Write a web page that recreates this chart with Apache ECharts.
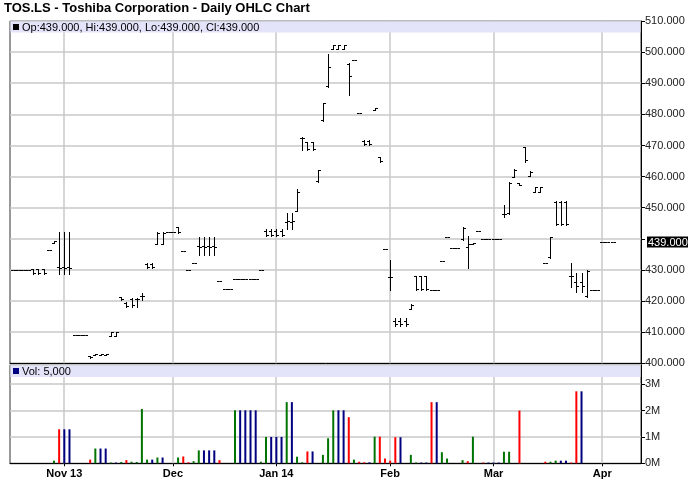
<!DOCTYPE html>
<html><head><meta charset="utf-8">
<script src="https://cdn.jsdelivr.net/npm/echarts@6/dist/echarts.min.js"></script>
<style>html,body{margin:0;padding:0;background:#fff}#c{width:688px;height:503px}</style>
</head><body><div id="c"></div>
<script>
// ---- data (trading days) ----
const dates = [
 "2013-10-18","2013-10-21","2013-10-22","2013-10-23","2013-10-24","2013-10-25","2013-10-28","2013-10-29","2013-10-30","2013-10-31",
 "2013-11-01","2013-11-04","2013-11-05","2013-11-06","2013-11-07","2013-11-08","2013-11-11","2013-11-12","2013-11-13","2013-11-14",
 "2013-11-15","2013-11-18","2013-11-19","2013-11-20","2013-11-21","2013-11-22","2013-11-25","2013-11-26","2013-11-27","2013-11-28",
 "2013-11-29","2013-12-02","2013-12-03","2013-12-04","2013-12-05","2013-12-06","2013-12-09","2013-12-10","2013-12-11","2013-12-12",
 "2013-12-13","2013-12-16","2013-12-17","2013-12-18","2013-12-19","2013-12-20","2013-12-23","2013-12-24","2013-12-27","2013-12-30",
 "2013-12-31","2014-01-02","2014-01-03","2014-01-06","2014-01-07","2014-01-08","2014-01-09","2014-01-10","2014-01-13","2014-01-14",
 "2014-01-15","2014-01-16","2014-01-17","2014-01-20","2014-01-21","2014-01-22","2014-01-23","2014-01-24","2014-01-27","2014-01-28",
 "2014-01-29","2014-01-30","2014-01-31","2014-02-03","2014-02-04","2014-02-05","2014-02-06","2014-02-07","2014-02-10","2014-02-11",
 "2014-02-12","2014-02-13","2014-02-14","2014-02-17","2014-02-18","2014-02-19","2014-02-20","2014-02-21","2014-02-24","2014-02-25",
 "2014-02-26","2014-02-27","2014-02-28","2014-03-03","2014-03-04","2014-03-05","2014-03-06","2014-03-07","2014-03-10","2014-03-11",
 "2014-03-12","2014-03-13","2014-03-14","2014-03-17","2014-03-18","2014-03-19","2014-03-20","2014-03-21","2014-03-24","2014-03-25",
 "2014-03-26","2014-03-27","2014-03-28","2014-03-31","2014-04-01","2014-04-02","2014-04-03","2014-04-04","2014-04-07","2014-04-08",
 "2014-04-09","2014-04-10"
];
const opens = [
 430,430,430,430,430.2,430.2,430.2,436.3,438.8,430.8,
 430.8,430.8,409.1,409.1,409.1,402.2,402.8,402.8,402.8,408.9,
 408.9,421.2,419.5,420.8,420.8,421.6,432,432,438.4,438.4,
 442.1,442.1,443.8,436.2,430,432.3,437.8,437.8,437.8,437.8,
 426.3,423.8,423.8,427,427,427,427,427,430,442.6,
 442.6,442.6,442.6,445.3,445.3,449,472.4,471,471,458.5,
 478.2,489,501.1,501.1,501.1,496.3,497.5,480.4,471.4,471.4,
 481.4,466.3,436.7,427.8,413.6,413.6,413.6,417.6,428,428,
 428,423.5,423.5,432.9,440.7,437.1,437.1,440,437.3,438.3,
 442.6,440.1,440.1,440.1,440.1,448,448.3,460,458.1,469.6,
 460.2,455,455,432.2,434,451.8,451.8,451.8,428,426,
 426,421.5,423.6,423.6,439,439,439
];
const highs = [
 430,430,430,430,430.2,430.2,430.2,436.3,439.4,442.3,
 442.3,442.3,409.1,409.1,409.1,402.5,403.1,403.1,403.1,410.2,
 410.2,421.4,419.6,421,420.9,422.7,432.3,432.3,442.1,442.1,
 442.1,442.1,443.9,436.2,430,432.3,440.7,440.7,440.7,440.7,
 426.3,423.8,423.8,427,427,427,427,427,430,443,
 443,443,443,448.2,448.2,455.9,472.7,471.2,471.2,462.2,
 483.8,499.5,502.4,502.4,502.4,496.5,497.5,480.4,471.6,471.6,
 482,466.4,436.7,433.2,414.4,414.4,414.4,419,428,428,
 428,423.5,423.5,432.9,440.7,437.1,437.1,443.9,440.9,438.8,
 442.6,440.1,440.1,440.1,440.1,450.9,458.4,462.4,458.1,469.6,
 461.8,456.8,456.8,432.2,440.7,452,452,452,432.2,428.9,
 428.9,430,423.6,423.6,439,439,439
];
const lows = [
 430,430,430,430,428.8,428.8,428.8,436.3,438.8,428.7,
 428.7,428.7,409.1,409.1,409.1,401.8,402.8,402.8,402.8,408.8,
 408.8,420.2,418.2,418.2,418.2,420.4,430.5,430.5,438.3,438.3,
 442.1,442.1,442,436.2,430,432.3,434.8,434.8,434.8,434.8,
 426.3,423.8,423.8,427,427,427,427,427,430,440.8,
 440.8,440.8,440.8,443.1,443.1,449,468.4,468.6,468.6,458.4,
 478,488.8,501,501,501,486.3,497.5,480.4,470.2,470.2,
 481.4,464.8,436.7,423.7,412,412,412,417.6,423.7,423.7,
 423.7,423.5,423.5,432.9,440.7,437.1,437.1,439.6,430.5,438.3,
 442.6,440.1,440.1,440.1,440.1,446.9,448,460,457.3,464.8,
 460.2,455,455,432.2,433.8,444.5,444.5,444.5,424.6,423,
 423,421.4,423.6,423.6,439,439,439
];
const closes = [
 430,430,430,430,429,429,429,436.3,439.3,430.5,
 430.5,430.5,409.1,409.1,409.1,402.1,403,403,403,410,
 410,420.6,418.5,418.7,420.8,421.7,430.8,430.8,442,442,
 442.1,442.1,442.3,436.2,430,432.3,437.4,437.4,437.4,437.4,
 426.3,423.8,423.8,427,427,427,427,427,430,441.2,
 441.2,441.2,441.2,445.6,445.6,455.2,472.4,469,469,462,
 483.5,495.2,502.2,502.2,502.2,492.2,497.5,480.4,470.4,470.4,
 481.9,465,436.7,427.8,412.6,412.6,412.6,418.8,424,424,
 424,423.5,423.5,432.9,440.7,437.1,437.1,443.5,438.3,438.8,
 442.6,440.1,440.1,440.1,440.1,448,458,462.2,457.3,465.2,
 461.6,456.6,456.6,432.2,440.5,444.8,444.8,444.8,428,425,
 425,429.8,423.6,423.6,439,439,439
];
const volumes = [
 0,0,0,0,0,0,0,0,100000,1290000,
 1290000,1290000,0,0,0,140000,560000,560000,560000,30000,
 30000,50000,120000,60000,50000,2060000,140000,140000,220000,220000,
 0,0,220000,260000,40000,80000,490000,490000,490000,490000,
 120000,0,0,2010000,2010000,2010000,2010000,2010000,60000,1000000,
 1000000,1000000,1000000,2320000,2320000,250000,40000,450000,450000,0,
 320000,950000,2010000,2010000,2010000,1750000,140000,60000,40000,40000,
 1010000,1010000,180000,100000,990000,990000,0,320000,30000,30000,
 30000,2320000,2320000,420000,180000,0,0,120000,80000,1010000,
 0,30000,30000,30000,30000,440000,440000,0,2000000,0,
 0,0,0,60000,60000,100000,100000,100000,30000,2730000,
 2730000,0,0,0,0,0,0
];
const titleText = 'TOS.LS - Toshiba Corporation - Daily OHLC Chart';
const volText = 'Vol: 5,000';
const monthNames = ['Jan','Feb','Mar','Apr','May','Jun','Jul','Aug','Sep','Oct','Nov','Dec'];

// ---- helpers ----
const FONT = '"Liberation Sans", Arial, sans-serif';
const last = closes.length - 1;
const lastClose = closes[last];
const f3 = v => v.toFixed(3);
const legendText = 'Op:' + f3(opens[last]) + ', Hi:' + f3(highs[last]) + ', Lo:' + f3(lows[last]) + ', Cl:' + f3(closes[last]);
function isMonthStart(idx) {
  if (idx <= 0) return false;
  return dates[idx].slice(5, 7) !== dates[idx - 1].slice(5, 7);
}
let firstShown = -1;
for (let i = 0; i < dates.length; i++) { if (isMonthStart(i)) { firstShown = i; break; } }
function fmtDate(val, idx) {
  const m = +val.slice(5, 7);
  const name = monthNames[m - 1];
  return (idx === firstShown || m === 1) ? name + ' ' + val.slice(2, 4) : name;
}
const monthIdx = dates.map((d, i) => i).filter(isMonthStart);
const ohlc = opens.map((o, i) => [i, o, highs[i], lows[i], closes[i]]);
const volColor = closes.map((c, i) => {
  if (i === 0) return '#000080';
  if (c > closes[i - 1]) return '#007400';
  if (c < closes[i - 1]) return '#ff0000';
  return '#000080';
});
const GRID = '#c8c8c8';
const gridLine = { show: true, lineStyle: { color: GRID, width: 1.5 } };
// vertical month gridlines, placed through the category axis
function monthGrid(ax, yRef) {
  return {
    type: 'custom', xAxisIndex: ax, yAxisIndex: ax, z: 2, silent: true,
    data: monthIdx.map(i => [i, yRef]),
    encode: { x: 0, y: 1 },
    renderItem: function (params, api) {
      const x = Math.round(api.coord([api.value(0), api.value(1)])[0]);
      const cs = params.coordSys;
      return { type: 'rect', shape: { x: x - 0.75, y: cs.y, width: 1.5, height: cs.height }, style: { fill: GRID } };
    }
  };
}

const chart = echarts.init(document.getElementById('c'), null, { renderer: 'canvas' });
chart.setOption({
  animation: false,
  backgroundColor: '#fff',
  textStyle: { fontFamily: FONT },
  title: {
    text: titleText, left: 4, top: 2, padding: 0,
    textStyle: { fontSize: 13, fontWeight: 'bold', color: '#000', fontFamily: FONT }
  },
  grid: [
    { left: 10, right: 47, top: 21, height: 342.3, show: true, backgroundColor: 'transparent', borderColor: '#333', borderWidth: 1 },
    { left: 10, right: 47, top: 364.7, height: 98.6, show: true, backgroundColor: 'transparent', borderColor: '#333', borderWidth: 1 }
  ],
  xAxis: [
    {
      type: 'category', gridIndex: 0, data: dates, boundaryGap: true,
      axisLine: { show: true, lineStyle: { color: '#000' } },
      axisTick: { show: false }, axisLabel: { show: false },
      splitLine: { show: false }
    },
    {
      type: 'category', gridIndex: 1, data: dates, boundaryGap: true,
      axisLine: { show: true, lineStyle: { color: '#000' } },
      axisTick: { show: true, interval: (i) => isMonthStart(i), alignWithLabel: true, length: 3, lineStyle: { color: '#000' } },
      axisLabel: { interval: (i) => isMonthStart(i), formatter: fmtDate, fontSize: 11, fontWeight: 'bold', color: '#000', margin: 5, fontFamily: FONT },
      splitLine: { show: false }
    }
  ],
  yAxis: [
    {
      type: 'value', gridIndex: 0, position: 'right', min: 400, max: 510, interval: 10,
      axisLine: { show: true, lineStyle: { color: '#000' } },
      axisTick: { show: true, length: 4, lineStyle: { color: '#000' } },
      axisLabel: { formatter: v => (Math.abs(v - lastClose) < 3 ? '' : f3(v)), fontSize: 11, color: '#222', margin: 4, fontFamily: FONT },
      splitLine: gridLine
    },
    {
      type: 'value', gridIndex: 1, position: 'right', min: 0, max: 3740000, interval: 1000000,
      axisLine: { show: true, lineStyle: { color: '#000' } },
      axisTick: { show: true, length: 4, lineStyle: { color: '#000' } },
      axisLabel: { formatter: v => (v / 1e6) + 'M', showMaxLabel: false, fontSize: 11, color: '#222', margin: 4, fontFamily: FONT },
      splitLine: gridLine
    }
  ],
  series: [
    monthGrid(0, 450),
    monthGrid(1, 0),
    {
      type: 'custom', name: 'OHLC', xAxisIndex: 0, yAxisIndex: 0, data: ohlc, z: 3,
      encode: { x: 0, y: [1, 2, 3, 4] },
      renderItem: function (params, api) {
        const i = api.value(0);
        const o = api.coord([i, api.value(1)]);
        const h = api.coord([i, api.value(2)]);
        const l = api.coord([i, api.value(3)]);
        const c = api.coord([i, api.value(4)]);
        const x = Math.round(o[0]) + 0.5;
        const r = v => Math.round(v) + 0.5;
        const st = { stroke: '#000', lineWidth: 1 };
        const kids = [
          { type: 'line', shape: { x1: x - 2.5, y1: r(o[1]), x2: x, y2: r(o[1]) }, style: st },
          { type: 'line', shape: { x1: x, y1: r(c[1]), x2: x + 2.5, y2: r(c[1]) }, style: st }
        ];
        if (Math.abs(h[1] - l[1]) > 0.5) {
          kids.push({ type: 'line', shape: { x1: x, y1: Math.round(h[1]), x2: x, y2: Math.round(l[1]) + 1 }, style: st });
        }
        return { type: 'group', children: kids };
      }
    },
    {
      type: 'bar', name: 'Volume', xAxisIndex: 1, yAxisIndex: 1, data: volumes, z: 3,
      barWidth: 2,
      itemStyle: { color: (p) => volColor[p.dataIndex] }
    }
  ],
  graphic: [
    { type: 'rect', z: 50, shape: { x: 10.5, y: 21.5, width: 630, height: 11 }, style: { fill: '#e3e3fa' } },
    { type: 'rect', z: 51, shape: { x: 13, y: 24, width: 6, height: 6 }, style: { fill: '#000' } },
    { type: 'text', z: 51, x: 22, y: 27.5, style: { text: legendText, font: '11px ' + FONT, fill: '#000', textVerticalAlign: 'middle' } },
    { type: 'rect', z: 50, shape: { x: 10.5, y: 365.5, width: 630, height: 11.5 }, style: { fill: '#e3e3fa' } },
    { type: 'rect', z: 51, shape: { x: 13, y: 368, width: 6, height: 6 }, style: { fill: '#000080' } },
    { type: 'text', z: 51, x: 22, y: 371.5, style: { text: volText, font: '11px ' + FONT, fill: '#000', textVerticalAlign: 'middle' } }
  ]
});
// current-price tag on the price axis, positioned through the axis scale
const yTag = chart.convertToPixel({ yAxisIndex: 0 }, lastClose);
const xTag = chart.convertToPixel({ xAxisIndex: 0 }, dates.length - 1) + 5.17 / 2 + 6;
chart.setOption({
  graphic: [
    { id: 'tagBg', type: 'rect', z: 60, shape: { x: Math.round(xTag), y: Math.round(yTag) - 5.5, width: 41, height: 11 }, style: { fill: '#000' } },
    { id: 'tagTx', type: 'text', z: 61, x: Math.round(xTag) + 1, y: Math.round(yTag) + 0.5, style: { text: f3(lastClose), font: '11px ' + FONT, fill: '#fff', textVerticalAlign: 'middle' } }
  ]
});
</script>
</body></html>
